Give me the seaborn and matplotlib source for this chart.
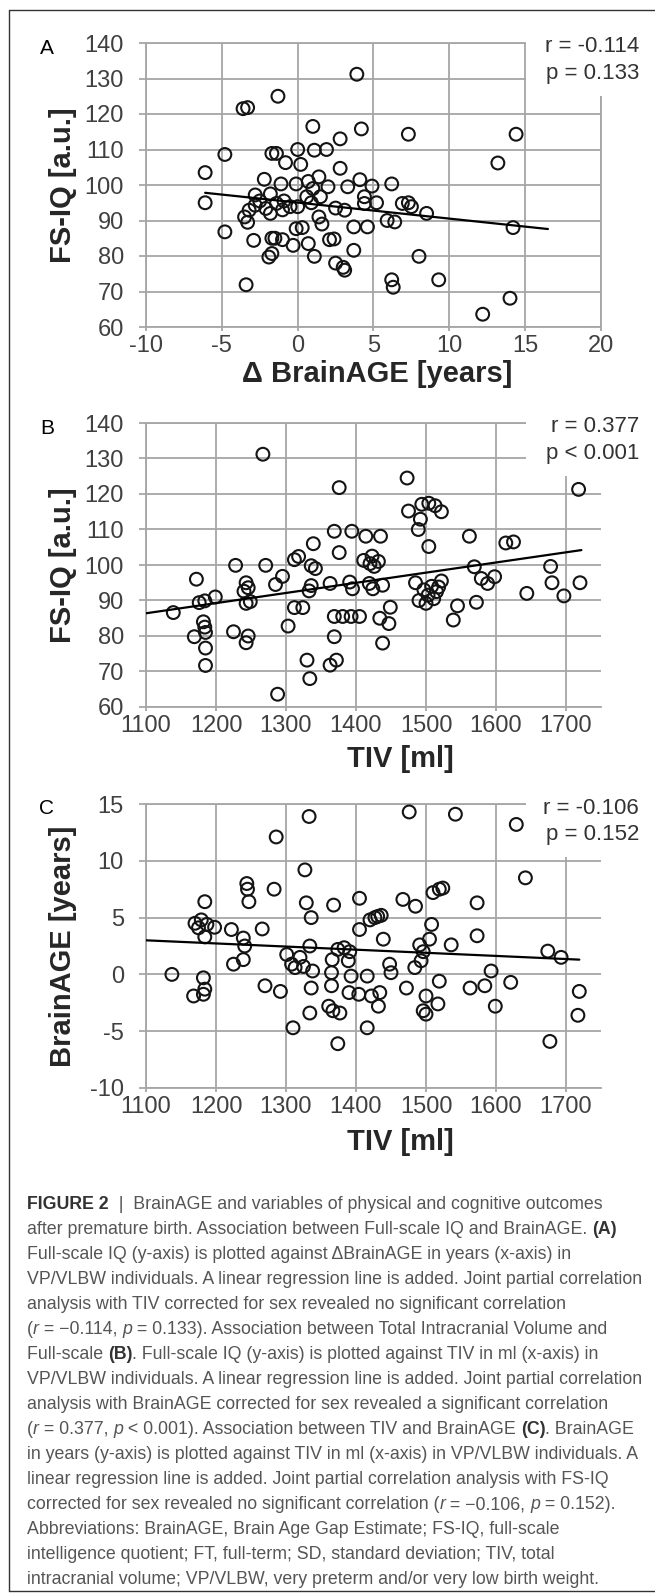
import matplotlib
matplotlib.use("Agg")
import matplotlib.pyplot as plt
from matplotlib import font_manager
from matplotlib.patches import Rectangle
from matplotlib.lines import Line2D
import seaborn as sns
import pandas as pd

# ---------------- data ----------------
# Panel A: delta BrainAGE [years] vs FS-IQ
a_brainage = [-6.1, -6.1, -4.8, -4.8, -3.6, -3.3, -3.4, -1.3, 3.9, 1.0, 4.2, 2.8, 7.3, 14.4, 13.2, 14.2, 12.2, 14.0, 9.3, 8.0, 8.5, 6.2, 6.3,
              -1.7, -1.4, 0.0, 1.1, 1.9, -0.8, 0.2, 2.8, -2.2, -1.1, -0.1, 0.7, 1.4, 2.0, 3.3, 4.1, 4.9, 6.2,
              -2.8, -1.8, -1.4, -0.9, 0.6, 1.5, -2.8, -3.2, -3.5, -3.3, -2.1, -1.8, -0.5, 0.0, 3.1, 4.4, 4.4, 5.2,
              6.9, 7.3, 7.5, 5.9, 6.4, 3.7, 4.6, 1.4, 1.6, -0.1, 0.3, -1.0, 0.9, 2.5,
              -2.9, -1.7, -1.5, -1.0, -0.3, 0.7, 2.1, 2.4, 3.7, -1.9, -1.7, 1.1, 2.5, 3.0, 3.1, -2.5, 1.0]
a_fsiq = [103.5, 95, 108.6, 86.8, 121.5, 121.8, 71.9, 125, 131.2, 116.5, 115.8, 113, 114.3, 114.3, 106.2, 88, 63.6, 68.1, 73.3, 79.9, 92, 73.3, 71.2,
          108.9, 108.9, 110, 109.8, 110, 106.3, 105.8, 104.7, 101.6, 100.3, 100.3, 101, 102.3, 99.5, 99.5, 101.5, 99.7, 100.3,
          97.2, 97.5, 94.8, 95.5, 96.7, 96.7, 94.3, 92.9, 91, 89.5, 93.4, 92, 93.9, 93.9, 92.9, 94.8, 96.7, 95,
          94.8, 95, 93.9, 90, 89.6, 88.2, 88.2, 91, 89, 87.7, 88, 93, 95, 93.5,
          84.4, 85, 85, 84.6, 83, 83.5, 84.6, 84.8, 81.6, 79.7, 80.7, 79.9, 78, 76.8, 76, 95.5, 99]
a_trend_x = [-6.1, 16.5]
a_trend_y = [97.8, 87.6]

# Panel B: TIV [ml] vs FS-IQ
b_tiv = [1139, 1172, 1169, 1176, 1184, 1199, 1182, 1184, 1185, 1185, 1185, 1228, 1225, 1243, 1246, 1240, 1249, 1243, 1246, 1243,
         1267, 1271, 1285, 1295, 1303, 1288, 1312, 1318, 1312, 1324, 1336, 1342, 1339, 1336, 1333, 1330, 1334,
         1376, 1369, 1376, 1363, 1369, 1381, 1393, 1405, 1369, 1363, 1372, 1394, 1391, 1395,
         1414, 1435, 1411, 1420, 1426, 1432, 1423, 1419, 1438, 1424, 1434, 1449, 1447, 1438,
         1473, 1475, 1494, 1504, 1513, 1522, 1492, 1489, 1504, 1485, 1490, 1497, 1503, 1508, 1515, 1522, 1500, 1511, 1518,
         1539, 1545, 1562, 1572, 1569, 1579, 1588, 1598, 1614, 1625, 1644, 1678, 1680, 1697, 1718, 1720]
b_fsiq = [86.6, 96, 79.8, 89.4, 89.9, 91, 84, 82.5, 81, 76.6, 71.7, 99.9, 81.2, 95, 93.6, 92.6, 89.7, 89.2, 80, 78.1,
          131.2, 99.9, 94.5, 96.8, 82.8, 63.6, 101.5, 102.4, 88, 88, 99.8, 99, 106, 94.2, 92.7, 73.2, 68,
          121.8, 109.5, 103.5, 94.8, 85.5, 85.5, 85.5, 85.5, 79.8, 71.8, 73.2, 109.5, 95.2, 93.3,
          108.1, 108.1, 101.3, 100.4, 99.6, 101, 102.5, 94.8, 94.3, 93.3, 85, 88.1, 83.5, 78,
          124.5, 115.2, 117.1, 117.4, 116.7, 115, 112.9, 110, 105.2, 95, 90, 93, 91.5, 94, 92.5, 95.5, 89.2, 90.5, 93.8,
          84.5, 88.5, 108.1, 89.5, 99.5, 96.2, 94.8, 96.7, 106.2, 106.5, 92, 99.6, 95, 91.3, 121.3, 95]
b_trend_x = [1100, 1722]
b_trend_y = [86.4, 104.2]

# Panel C: TIV [ml] vs BrainAGE
c_tiv = [1137, 1168, 1182, 1184, 1182, 1170, 1175, 1179, 1187, 1184, 1198, 1184, 1222, 1239, 1241, 1239, 1225, 1244, 1245, 1247,
         1266, 1270, 1292, 1283, 1286,
         1301, 1308, 1313, 1320, 1325, 1310, 1327, 1333, 1329, 1336, 1334, 1338, 1336, 1334,
         1368, 1366, 1365, 1365, 1361, 1367, 1377, 1374, 1374, 1383, 1391, 1389, 1393, 1390,
         1405, 1405, 1416, 1404, 1416, 1422, 1434, 1432, 1420, 1427, 1431, 1436, 1439, 1448, 1450,
         1467, 1485, 1472, 1476, 1484, 1491, 1496, 1493, 1505, 1508, 1500, 1496, 1500, 1517, 1519, 1510, 1519, 1524, 1536, 1542,
         1563, 1584, 1573, 1573, 1593, 1599, 1621, 1629, 1642, 1674, 1693, 1677, 1719, 1717]
c_brainage = [0, -1.9, -1.75, -1.3, -0.3, 4.5, 4.1, 4.8, 4.4, 3.3, 4.15, 6.4, 3.95, 3.2, 2.5, 1.3, 0.9, 8.0, 7.5, 6.4,
              4.0, -1.0, -1.5, 7.5, 12.1,
              1.75, 0.9, 0.6, 1.5, 0.7, -4.7, 9.2, 13.9, 6.3, 5.0, 2.5, 0.3, -1.2, -3.4,
              6.1, 1.3, 0.15, -1.0, -2.8, -3.2, -3.4, -6.1, 2.2, 2.35, 2.0, 1.2, -0.15, -1.6,
              6.7, 3.95, -0.15, -1.75, -4.7, -1.9, -1.6, -2.8, 4.8, 5.0, 5.1, 5.2, 3.1, 0.9, 0.15,
              6.6, 6.0, -1.2, 14.3, 0.6, 2.6, 2.0, 1.2, 3.1, 4.4, -1.9, -3.2, -3.5, -2.6, -0.6, 7.2, 7.5, 7.6, 2.6, 14.1,
              -1.2, -1.0, 6.3, 3.4, 0.3, -2.8, -0.7, 13.2, 8.5, 2.05, 1.5, -5.9, -1.5, -3.6]
c_trend_x = [1100, 1719]
c_trend_y = [3.0, 1.3]

brainage_ticks = [-10, -5, 0, 5, 10, 15, 20]
tiv_ticks = [1100, 1200, 1300, 1400, 1500, 1600, 1700]
fsiq_ticks = [60, 70, 80, 90, 100, 110, 120, 130, 140]
years_ticks = [-10, -5, 0, 5, 10, 15]

stats_a = ["r = -0.114", "p = 0.133"]
stats_b = ["r = 0.377", "p < 0.001"]
stats_c = ["r = -0.106", "p = 0.152"]

caption = [
    [("FIGURE 2", "b"), ("  |  BrainAGE and variables of physical and cognitive outcomes", "n")],
    [("after premature birth. Association between Full-scale IQ and BrainAGE. ", "n"), ("(A)", "b")],
    [("Full-scale IQ (y-axis) is plotted against \u0394BrainAGE in years (x-axis) in", "n")],
    [("VP/VLBW individuals. A linear regression line is added. Joint partial correlation", "n")],
    [("analysis with TIV corrected for sex revealed no significant correlation", "n")],
    [("(", "n"), ("r", "i"), (" = \u22120.114, ", "n"), ("p", "i"),
     (" = 0.133). Association between Total Intracranial Volume and", "n")],
    [("Full-scale ", "n"), ("(B)", "b"), (". Full-scale IQ (y-axis) is plotted against TIV in ml (x-axis) in", "n")],
    [("VP/VLBW individuals. A linear regression line is added. Joint partial correlation", "n")],
    [("analysis with BrainAGE corrected for sex revealed a significant correlation", "n")],
    [("(", "n"), ("r", "i"), (" = 0.377, ", "n"), ("p", "i"),
     (" < 0.001). Association between TIV and BrainAGE ", "n"), ("(C)", "b"), (". BrainAGE", "n")],
    [("in years (y-axis) is plotted against TIV in ml (x-axis) in VP/VLBW individuals. A", "n")],
    [("linear regression line is added. Joint partial correlation analysis with FS-IQ", "n")],
    [("corrected for sex revealed no significant correlation (", "n"), ("r", "i"), (" = \u22120.106, ", "n"),
     ("p", "i"), (" = 0.152).", "n")],
    [("Abbreviations: BrainAGE, Brain Age Gap Estimate; FS-IQ, full-scale", "n")],
    [("intelligence quotient; FT, full-term; SD, standard deviation; TIV, total", "n")],
    [("intracranial volume; VP/VLBW, very preterm and/or very low birth weight.", "n")],
]

# ---------------- style ----------------
sns.set_theme(style="white")
names = {f.name for f in font_manager.fontManager.ttflist}
SANS = "Liberation Sans" if "Liberation Sans" in names else "DejaVu Sans"
NARROW = "Liberation Sans Narrow" if "Liberation Sans Narrow" in names else SANS
plt.rcParams["font.family"] = [SANS, "DejaVu Sans"]
plt.rcParams["axes.unicode_minus"] = False

GRID = "#a6a6a6"
W, H = 655, 1595
fig = plt.figure(figsize=(W / 100, H / 100), dpi=100)
renderer = fig.canvas.get_renderer()


def fig_rect(left, top, right, bottom):
    return [left / W, 1 - bottom / H, (right - left) / W, (bottom - top) / H]


def run_width(s, props):
    t = fig.text(0, 0, "|" + s + "|", **props)
    w1 = t.get_window_extent(renderer).width
    t.remove()
    t = fig.text(0, 0, "||", **props)
    w0 = t.get_window_extent(renderer).width
    t.remove()
    return w1 - w0


panels = [
    dict(letter="A", top=43, x=a_brainage, y=a_fsiq, tx=a_trend_x, ty=a_trend_y,
         xlim=(-10, 20), ylim=(60, 140), xticks=brainage_ticks, yticks=fsiq_ticks,
         xlabel="\u0394 BrainAGE [years]", ylabel="FS-IQ [a.u.]", stats=stats_a,
         xlab_pos=(0.508, -0.166), right_spine=True),
    dict(letter="B", top=423, x=b_tiv, y=b_fsiq, tx=b_trend_x, ty=b_trend_y,
         xlim=(1100, 1750), ylim=(60, 140), xticks=tiv_ticks, yticks=fsiq_ticks,
         xlabel="TIV [ml]", ylabel="FS-IQ [a.u.]", stats=stats_b,
         xlab_pos=(0.56, -0.184), right_spine=False),
    dict(letter="C", top=804, x=c_tiv, y=c_brainage, tx=c_trend_x, ty=c_trend_y,
         xlim=(1100, 1750), ylim=(-10, 15), xticks=tiv_ticks, yticks=years_ticks,
         xlabel="TIV [ml]", ylabel="BrainAGE [years]", stats=stats_c,
         xlab_pos=(0.56, -0.19), right_spine=False),
]

for p in panels:
    top = p["top"]
    ax = fig.add_axes(fig_rect(146, top, 601, top + 284))
    df = pd.DataFrame({"x": p["x"], "y": p["y"]})
    sns.scatterplot(data=df, x="x", y="y", ax=ax, s=85, marker="o",
                    facecolor="none", edgecolor="#141414", linewidth=1.5, zorder=3)
    sns.lineplot(x=p["tx"], y=p["ty"], ax=ax, color="black", lw=1.6, zorder=4)

    ax.set_xlim(*p["xlim"])
    ax.set_ylim(*p["ylim"])
    ax.set_xticks(p["xticks"])
    ax.set_yticks(p["yticks"])
    ax.grid(True, color=GRID, lw=1.3)
    ax.set_axisbelow(True)
    for sp in ax.spines.values():
        sp.set_color(GRID)
        sp.set_linewidth(1.3)
    ax.spines["right"].set_visible(p["right_spine"])
    ax.tick_params(axis="y", length=5, width=1.3, pad=11, color=GRID,
                   labelsize=17, labelcolor="#404040", left=True)
    ax.tick_params(axis="x", length=3, width=1.3, pad=3, color=GRID,
                   labelsize=17, labelcolor="#404040", bottom=True)

    ax.set_xlabel(p["xlabel"], fontsize=21, fontweight="bold", color="#262626")
    ax.xaxis.set_label_coords(*p["xlab_pos"])
    ax.xaxis.label.set_va("center")
    ax.set_ylabel(p["ylabel"], fontsize=21, fontweight="bold", color="#262626")
    ax.yaxis.set_label_coords(-0.182, 0.5)
    ax.yaxis.label.set_va("center")

    # white box behind the statistics, as in the source chart
    fig.add_artist(Rectangle((526 / W, 1 - (top + 53) / H), (W - 526) / W, 66 / H,
                             transform=fig.transFigure, fc="white", ec="none", zorder=2))
    fig.text(639 / W, 1 - (top + 4) / H, p["stats"][0], ha="right", va="center",
             fontsize=16, color="#333333", zorder=3)
    fig.text(639 / W, 1 - (top + 31) / H, p["stats"][1], ha="right", va="center",
             fontsize=16, color="#333333", zorder=3)
    fig.text(47 / W, 1 - (top + 5) / H, p["letter"], ha="center", va="center",
             fontsize=15, color="black")

# outer frame (open on the right, like the cropped source)
for xs, ys in [([9, 9], [10, 1591]), ([9, W], [10, 10]), ([9, W], [1591, 1591])]:
    fig.add_artist(Line2D([v / W for v in xs], [1 - v / H for v in ys],
                          transform=fig.transFigure, color="#333333", lw=1))

# caption with mixed bold / italic runs; size fitted so the longest line spans the text block
base = dict(family=[NARROW, "DejaVu Sans"], fontsize=10)
cap_fs = 10 * 617 / run_width(caption[3][0][0], base)
styles = {
    "n": dict(family=[NARROW, "DejaVu Sans"], fontsize=cap_fs, color="#555555"),
    "b": dict(family=[NARROW, "DejaVu Sans"], fontsize=cap_fs, color="#333333", fontweight="bold"),
    "i": dict(family=[NARROW, "DejaVu Sans"], fontsize=cap_fs, color="#555555", fontstyle="italic"),
}

for i, line in enumerate(caption):
    y = 1204 + i * 25 + 5
    x = 27
    for s, st in line:
        fig.text(x / W, 1 - y / H, s, ha="left", va="baseline", **styles[st])
        x += run_width(s, styles[st])

fig.savefig("out.png", dpi=100, facecolor="white")
